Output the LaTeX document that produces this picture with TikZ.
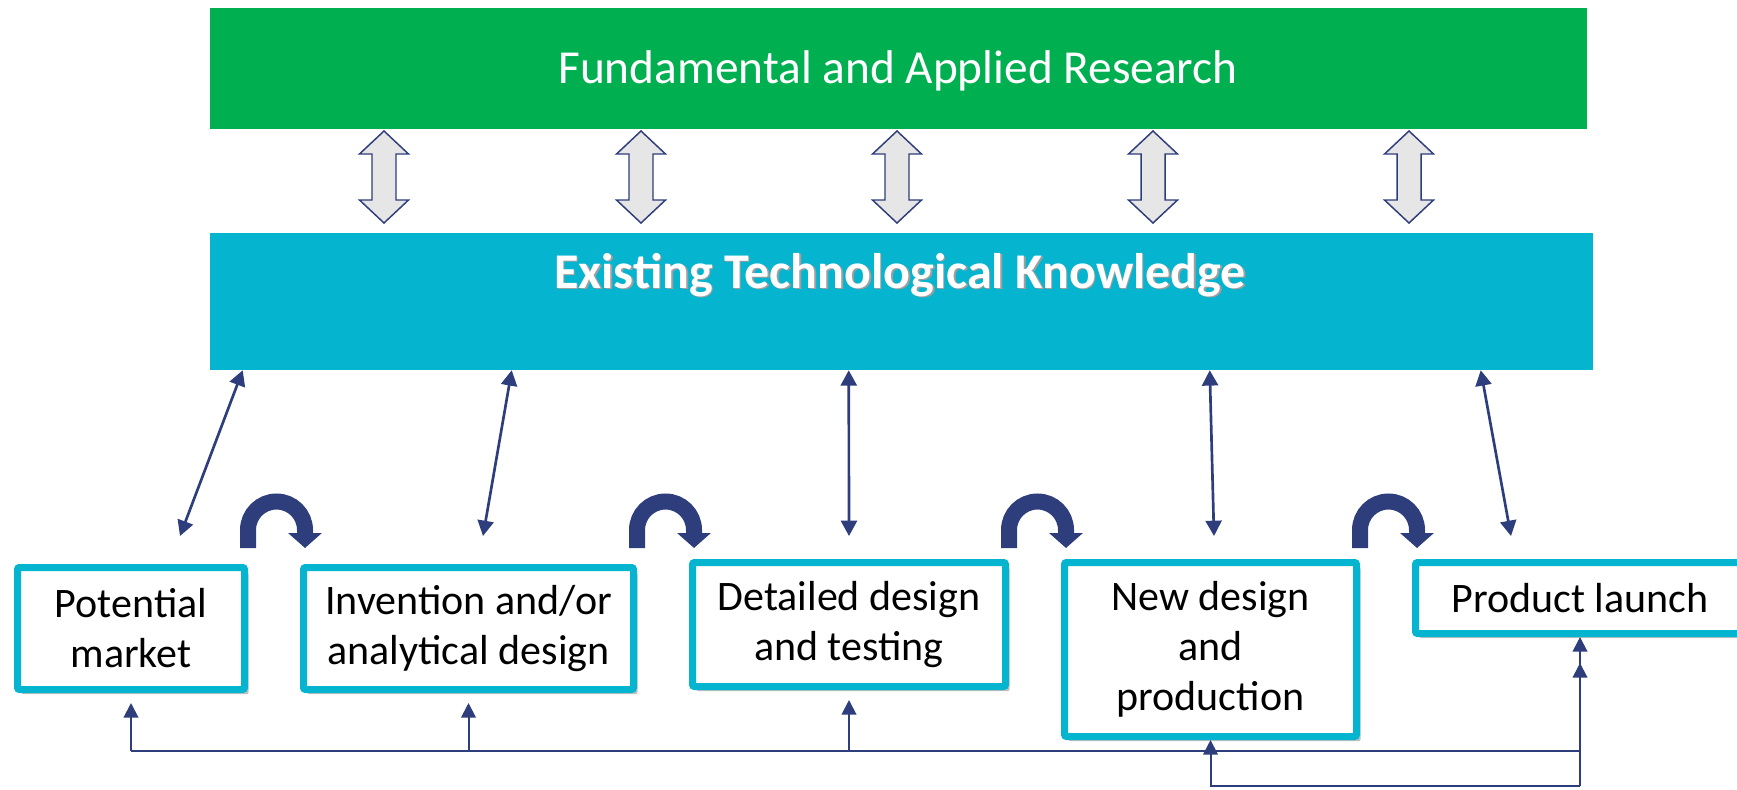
\documentclass[tikz,border=0pt]{standalone}
\usepackage{fontspec}
\setmainfont{Carlito}
\usetikzlibrary{arrows.meta,calc,shadows}
\definecolor{resgreen}{HTML}{00AF50}
\definecolor{knowcyan}{HTML}{05B4CF}
\definecolor{arrnavy}{HTML}{2E3D7B}
\definecolor{blockgray}{HTML}{E6E6E6}

\begin{document}
\begin{tikzpicture}[x=0.75pt,y=0.75pt,yscale=-1,xscale=1,
  stagebox/.style={draw=knowcyan,line width=5.25pt,fill=white,rounded corners=1.5pt,align=center,inner sep=0pt,
    font=\fontsize{31.5}{37.5}\selectfont,drop shadow={shadow xshift=3pt,shadow yshift=-3.5pt,fill=black!55,opacity=0.45}},
  linkarrow/.style={arrnavy,line width=2pt,{Triangle[length=11.5pt,width=12pt]}-{Triangle[length=11.5pt,width=12pt]}},
  fbline/.style={arrnavy,line width=1.5pt},
  fbarrow/.style={fbline,-{Triangle[length=11pt,width=11pt]}},
  turnarrow/.style={arrnavy,line width=12pt,-{Triangle[length=11.25pt,width=24.75pt]}},
  blockarrow/.style={draw=arrnavy,line width=1.1pt,fill=blockgray,line join=miter}]
\useasboundingbox (0,0) rectangle (1737,789);

% bands
\node [fill=resgreen,minimum width=1032.75pt,minimum height=90.75pt,inner sep=0pt] (research) at (898.5,68.5) {};
\node [anchor=base,white,inner sep=0pt,font=\fontsize{35.5}{42}\selectfont] (researchtxt) at (898,83) {Fundamental and Applied Research};
\node [fill=knowcyan,minimum width=1037.25pt,minimum height=102.75pt,inner sep=0pt] (knowledge) at (901.5,301.5) {};
\node [anchor=base,gray!75,inner sep=0pt,font=\fontsize{37.5}{44}\selectfont\bfseries] (knowshade) at (901.5,289.5) {Existing Technological Knowledge};
\node [anchor=base,white,inner sep=0pt,font=\fontsize{37.5}{44}\selectfont\bfseries] (knowtxt) at (900,288) {Existing Technological Knowledge};

% stages
\node [stagebox,minimum width=170.25pt,minimum height=91.5pt] (market) at (131,628.5) {Potential\\market};
\node [stagebox,minimum width=247.5pt,minimum height=91.5pt] (invention) at (468.5,628.5) {Invention and/or\\analytical design};
\node [stagebox,minimum width=234.75pt,minimum height=93pt] (detailed) at (849,624.5) {Detailed design\\and testing};
\node [stagebox,minimum width=219pt,minimum height=130.5pt] (newdesign) at (1210.5,649.5) {New design\\and\\production};
\node [stagebox,minimum width=246.75pt,minimum height=53.25pt] (launch) at (1580,598) {Product launch};

% research <-> knowledge
\foreach \x in {384,641,897,1153,1409}
  \draw [blockarrow] (\x,131) -- (\x+24.5,154) -- (\x+12,154) -- (\x+12,200) -- (\x+24.5,200) -- (\x,223) -- (\x-24.5,200) -- (\x-12,200) -- (\x-12,154) -- (\x-24.5,154) -- cycle ;

% knowledge <-> stages
\draw [linkarrow] ($(knowledge.south west)+(33,0)$) -- ($(market.north)+(49,-28)$);
\draw [linkarrow] ($(knowledge.south west)+(302,0)$) -- ($(invention.north)+(14.5,-28)$);
\draw [linkarrow] ($(knowledge.south west)+(639,0)$) -- ($(detailed.north)+(0,-23)$);
\draw [linkarrow] ($(knowledge.south west)+(1000,0)$) -- ($(newdesign.north)+(3.5,-23)$);
\draw [linkarrow] ($(knowledge.south west)+(1271,0)$) -- ($(launch.north)+(-69,-23)$);

% stage to stage
\foreach \a in {market,invention,detailed,newdesign}
  \draw [turnarrow] (\a.north east |- 0,548) -- ++(0,-18) arc [start angle=180,end angle=360,radius=28.5] -- ++(0,18);

% feedback
\coordinate (bus) at (131,751);
\coordinate (loop) at (1210,786);
\draw [fbline] (bus -| market.south) -- (bus -| launch.south);
\foreach \b in {market,invention,detailed}
  \draw [fbarrow] (bus -| \b.south) -- ($(\b.south)+(0,10)$);
\draw [fbarrow] (bus -| launch.south) -- ($(launch.south)+(0,26)$);
\draw [fbarrow] (loop -| launch.south) -- (launch.south);
\draw [fbarrow] (loop -| launch.south) -- (loop -| newdesign.south) -- (newdesign.south);
\end{tikzpicture}
\end{document}
